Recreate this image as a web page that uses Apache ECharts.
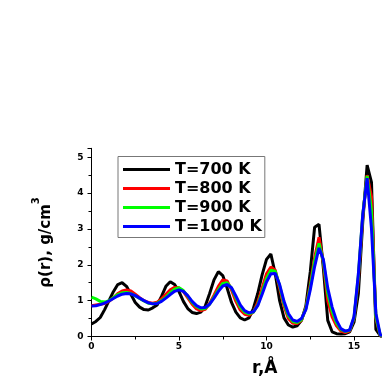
<!DOCTYPE html>
<html>
<head>
<meta charset="utf-8">
<script src="https://cdn.jsdelivr.net/npm/echarts@6/dist/echarts.min.js"></script>
<style>html,body{margin:0;padding:0;background:#fff}#c{width:382px;height:382px}</style>
</head>
<body>
<div id="c"></div>
<script>
const r = [0,0.25,0.5,0.75,1,1.25,1.5,1.75,2,2.25,2.5,2.75,3,3.25,3.5,3.75,4,4.25,4.5,4.75,5,5.25,5.5,5.75,6,6.25,6.5,6.75,7,7.25,7.5,7.75,8,8.25,8.5,8.75,9,9.25,9.5,9.75,10,10.25,10.5,10.75,11,11.25,11.5,11.75,12,12.25,12.5,12.75,13,13.25,13.5,13.75,14,14.25,14.5,14.75,15,15.25,15.5,15.75,16,16.25,16.5,16.6];
const seriesNames = ['T=700 K','T=800 K','T=900 K','T=1000 K'];
const rho700 = [0.35,0.42,0.53,0.75,1.0,1.25,1.45,1.5,1.4,1.18,0.95,0.82,0.75,0.74,0.8,0.88,1.12,1.4,1.53,1.45,1.25,0.98,0.78,0.67,0.64,0.68,0.85,1.2,1.58,1.81,1.7,1.35,0.95,0.68,0.52,0.46,0.52,0.78,1.2,1.72,2.15,2.3,1.75,1.0,0.52,0.32,0.26,0.3,0.45,0.85,1.8,3.05,3.13,1.9,0.45,0.13,0.08,0.07,0.08,0.13,0.4,1.2,3.2,4.78,4.3,0.2,0.02,0.0];
const rho800 = [0.86,0.88,0.9,0.92,0.98,1.08,1.2,1.27,1.3,1.27,1.18,1.08,1.0,0.95,0.93,0.96,1.05,1.18,1.3,1.37,1.36,1.25,1.08,0.9,0.77,0.72,0.76,0.92,1.15,1.4,1.58,1.55,1.3,0.98,0.74,0.62,0.59,0.68,0.95,1.35,1.75,1.94,1.85,1.35,0.85,0.5,0.37,0.36,0.45,0.8,1.45,2.2,2.77,2.05,1.0,0.55,0.3,0.15,0.11,0.15,0.5,1.6,3.35,4.5,3.9,0.5,0.03,0.02];
const rho900 = [1.1,1.05,0.98,0.96,1.0,1.08,1.17,1.22,1.23,1.2,1.14,1.06,0.99,0.93,0.91,0.93,1.0,1.1,1.22,1.32,1.36,1.28,1.12,0.95,0.83,0.77,0.78,0.9,1.1,1.3,1.48,1.5,1.35,1.08,0.82,0.68,0.63,0.68,0.88,1.25,1.62,1.85,1.82,1.42,0.92,0.58,0.42,0.39,0.47,0.78,1.38,2.1,2.6,2.1,1.2,0.7,0.38,0.19,0.14,0.17,0.52,1.7,3.4,4.48,3.5,0.55,0.04,0.02];
const rho1000 = [0.85,0.86,0.89,0.93,0.99,1.06,1.13,1.18,1.2,1.19,1.14,1.07,1.0,0.94,0.91,0.92,0.98,1.07,1.17,1.26,1.3,1.26,1.14,0.98,0.86,0.8,0.81,0.9,1.07,1.26,1.41,1.45,1.36,1.13,0.88,0.72,0.66,0.69,0.86,1.18,1.52,1.75,1.76,1.45,0.98,0.64,0.46,0.42,0.5,0.75,1.3,1.95,2.47,2.15,1.35,0.82,0.45,0.22,0.15,0.18,0.55,1.75,3.4,4.42,3.0,0.65,0.05,0.02];
const xTicks = {min:0, max:16.6, interval:5};
const yTicks = {min:0, max:5.25, interval:1};
const colors = ['#000000','#ff0000','#00ff00','#0000ff'];

const F = 'DejaVu Sans';
const pairs = ys => r.map((x,i)=>[x, ys[i]]);
const allY = [rho700, rho800, rho900, rho1000];

const chart = echarts.init(document.getElementById('c'), null, {renderer:'canvas'});
chart.setOption({
  animation:false,
  backgroundColor:'#fff',
  grid:{left:91.5, right:0, top:148.3, bottom:45.5, containLabel:false},
  legend:{
    orient:'vertical', left:118, top:156.5,
    data:seriesNames,
    icon:'rect', itemWidth:47, itemHeight:3, itemGap:3,
    padding:[5,3,3,5],
    borderColor:'#777', borderWidth:1,
    textStyle:{fontFamily:F, fontWeight:'bold', fontSize:16, lineHeight:16, color:'#000'}
  },
  xAxis:{
    type:'value', min:xTicks.min, max:xTicks.max, interval:xTicks.interval,
    name:'r,Å', nameLocation:'middle', nameGap:24,
    nameTextStyle:{fontFamily:F, fontWeight:'bold', fontSize:17, color:'#000', padding:[0,0,0,56]},
    axisLine:{show:true, onZero:false, lineStyle:{color:'#000', width:1}},
    axisTick:{show:true, inside:false, length:4, lineStyle:{color:'#000'}},
    minorTick:{show:true, splitNumber:2, length:3, lineStyle:{color:'#000'}},
    splitLine:{show:false},
    axisLabel:{fontFamily:F, fontWeight:'bold', fontSize:9, color:'#000', margin:6, showMaxLabel:false}
  },
  yAxis:{
    type:'value', min:yTicks.min, max:yTicks.max, interval:yTicks.interval,
    name:'{a|ρ(r), g/cm}{s|3}', nameLocation:'middle', nameGap:38, nameRotate:90,
    nameTextStyle:{
      padding:[0,0,0,0],
      rich:{
        a:{fontFamily:F, fontWeight:'bold', fontSize:15, color:'#000', lineHeight:22, verticalAlign:'bottom'},
        s:{fontFamily:F, fontWeight:'bold', fontSize:10, color:'#000', lineHeight:22, verticalAlign:'top'}
      }
    },
    axisLine:{show:true, lineStyle:{color:'#000', width:1}},
    axisTick:{show:true, inside:false, length:4, lineStyle:{color:'#000'}},
    minorTick:{show:true, splitNumber:2, length:3, lineStyle:{color:'#000'}},
    splitLine:{show:false},
    axisLabel:{fontFamily:F, fontWeight:'bold', fontSize:9, color:'#000', margin:8, showMaxLabel:false}
  },
  series: seriesNames.map((n,i)=>({
    name:n, type:'line', data:pairs(allY[i]), showSymbol:false, symbol:'none',
    color:colors[i], lineStyle:{color:colors[i], width:3}, z:2+i
  }))
});
</script>
</body>
</html>
